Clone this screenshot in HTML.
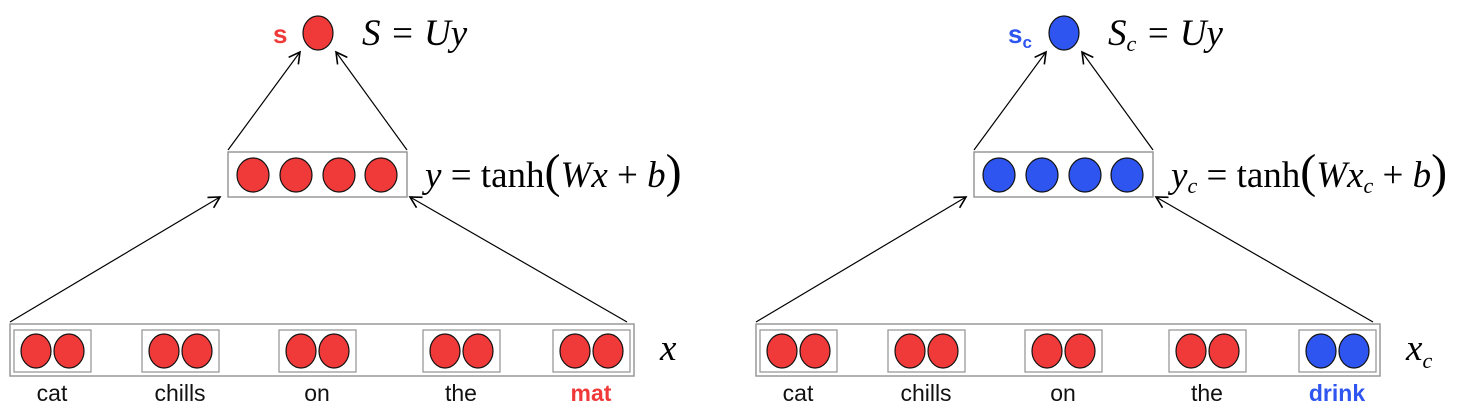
<!DOCTYPE html>
<html><head><meta charset="utf-8"><style>
html,body{margin:0;padding:0;background:#fff;width:1479px;height:408px;overflow:hidden}
.w{font-family:"Liberation Sans",sans-serif;font-size:23px;text-anchor:middle}
.m{font-family:"Liberation Serif",serif;font-style:italic;font-size:37px}
.s{font-family:"Liberation Sans",sans-serif;font-weight:bold;font-size:26px}
</style></head><body>
<svg width="1479" height="408" viewBox="0 0 1479 408">
<defs><marker id="ah" markerWidth="14" markerHeight="14" refX="12" refY="7" orient="auto" markerUnits="userSpaceOnUse"><path d="M1,1 L12,7 L1,13" fill="none" stroke="#000" stroke-width="1.6"/></marker></defs>
<g id="left"></g>
<g id="right" transform="translate(746,0)"></g>
</svg>
<script>
const NS='http://www.w3.org/2000/svg';
const words=['cat','chills','on','the'];
const wordX=[14,142,279,423,553];
function el(p,t,a,txt){const e=document.createElementNS(NS,t);for(const k in a)e.setAttribute(k,a[k]);if(txt!==undefined)e.textContent=txt;p.appendChild(e);return e;}
function build(g,last,lastCol,topCol,sub){
  [[228,150,300,52],[407,150,336,52],[10,322,220,197],[627,322,410,197]].forEach(a=>{
    const l=el(g,'line',{x1:a[0],y1:a[1],x2:a[2],y2:a[3],stroke:'#000','stroke-width':1.2,'marker-end':'url(#ah)'});
    
  });
  const top=el(g,'ellipse',{cx:318,cy:33,rx:15,ry:17,fill:topCol,stroke:'#111','stroke-width':1.2});
  
  const sl=el(g,'text',{x:sub?262:273,y:43,fill:topCol,class:'s'},'s');
  
  if(sub){el(sl,'tspan',{'font-size':17,dy:5},'c');}
  const eq=el(g,'text',{x:362,y:45,class:'m'});
  
  eq.innerHTML=sub?'S<tspan font-size="22" dy="6">c</tspan><tspan dy="-6"> = Uy</tspan>':'S = Uy';
  const hb=el(g,'rect',{x:228,y:152,width:179,height:45,fill:'#fff',stroke:'#999','stroke-width':1.5});
  
  [253,296,339,381].forEach(x=>{const c=el(g,'ellipse',{cx:x,cy:175,rx:16,ry:17,fill:topCol,stroke:'#111','stroke-width':1.2});});
  const he=el(g,'text',{x:425,y:187,class:'m'});
  
  he.innerHTML=sub?'y<tspan font-size="22" dy="6">c</tspan><tspan dy="-6" font-style="normal"> = tanh</tspan><tspan font-style="normal" font-size="48">(</tspan>Wx<tspan font-size="22" dy="6">c</tspan><tspan dy="-6" font-style="normal"> + </tspan>b<tspan font-style="normal" font-size="48">)</tspan>':'y<tspan font-style="normal"> = tanh</tspan><tspan font-style="normal" font-size="48">(</tspan>Wx<tspan font-style="normal"> + </tspan>b<tspan font-style="normal" font-size="48">)</tspan>';
  const ib=el(g,'rect',{x:10,y:324,width:624,height:52,fill:'#fff',stroke:'#999','stroke-width':1.5});
  
  const all=words.concat([last]);
  wordX.forEach((x,i)=>{
    const col=i===4?lastCol:'#f03a3a';
    const b=el(g,'rect',{x:x,y:330,width:77,height:42,fill:'#fff',stroke:'#999','stroke-width':1.3});
    
    [x+22,x+55].forEach(cx=>{const c=el(g,'ellipse',{cx:cx,cy:351,rx:15,ry:17,fill:col,stroke:'#111','stroke-width':1.2});});
    const t=el(g,'text',{x:x+38,y:401,class:'w',fill:i===4?lastCol:'#111','font-weight':i===4?'bold':'normal'},all[i]);
    
  });
  const xl=el(g,'text',{x:660,y:360,class:'m'});
  
  xl.innerHTML=sub?'x<tspan font-size="22" dy="8">c</tspan>':'x';
}
build(document.getElementById('left'),'mat','#f03a3a','#f03a3a',false);
build(document.getElementById('right'),'drink','#2f55f0','#2f55f0',true);
</script>
</body></html>
